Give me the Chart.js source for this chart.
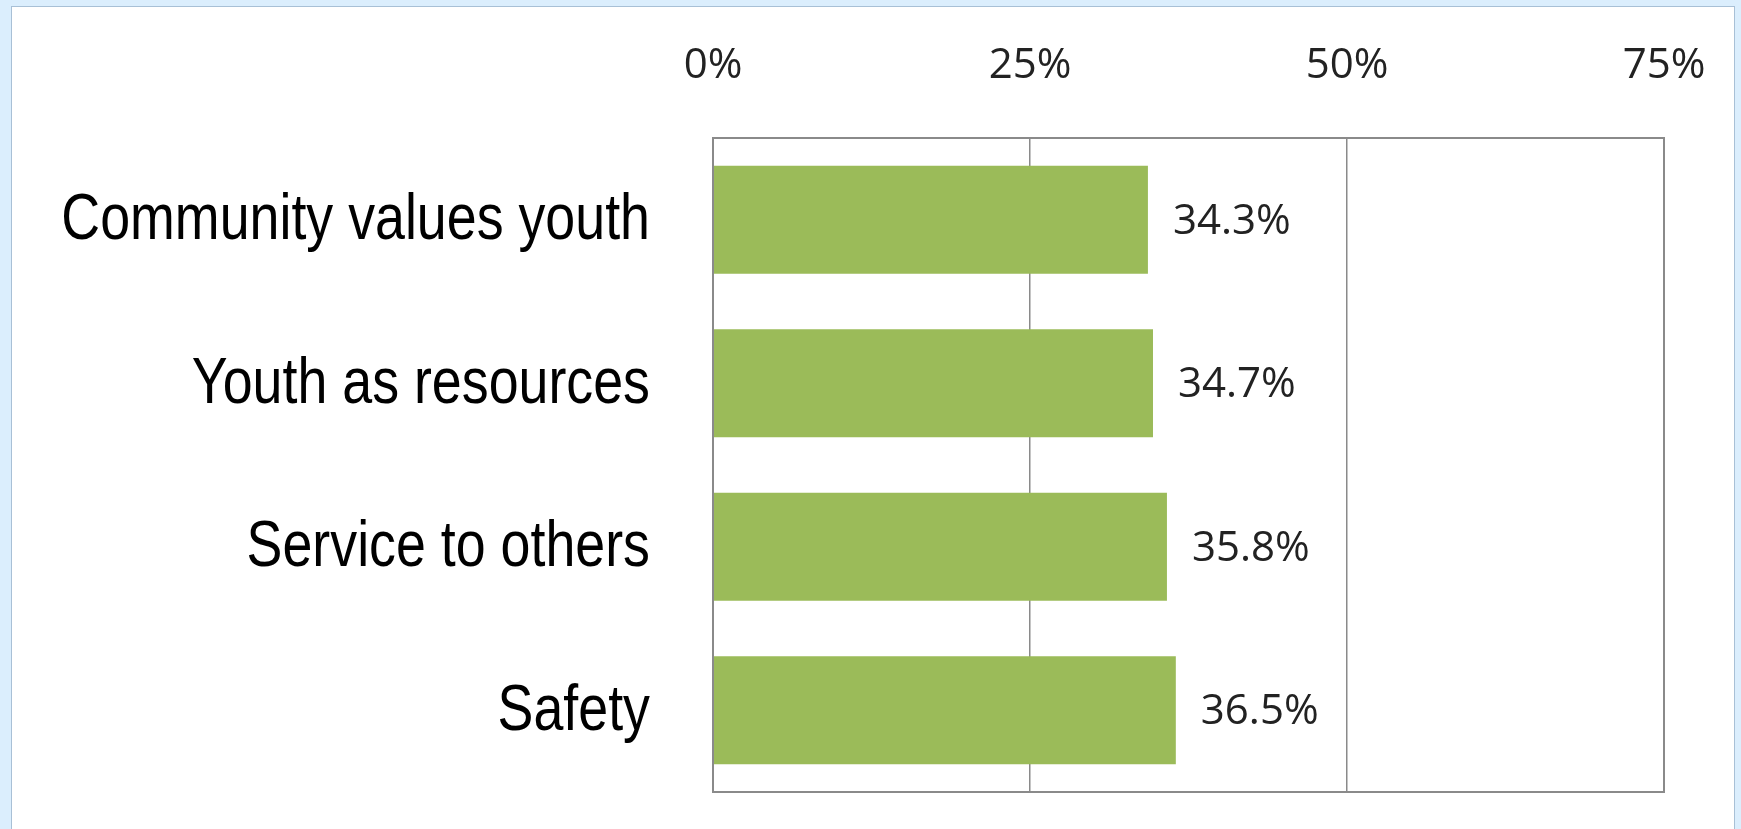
<!DOCTYPE html>
<html>
<head>
<meta charset="utf-8">
<title>Developmental assets</title>
<script src="https://cdn.jsdelivr.net/npm/chart.js@4/dist/chart.umd.min.js"></script>
<style>
    html, body {
        margin: 0;
        padding: 0;
        width: 1741px;
        height: 829px;
        overflow: hidden;
        background: #dbeefd;
    }
    #panel {
        position: absolute;
        left: 11px;
        top: 6px;
        width: 1722px;
        height: 830px;
        background: #ffffff;
        border-left: 1px solid #a8c0d6;
        border-top: 1px solid #a8c0d6;
        border-right: 1px solid #a8c0d6;
    }
    #assetChart {
        position: absolute;
        left: 0;
        top: 0;
    }
</style>
</head>
<body>

<div id="panel"></div>
<canvas id="assetChart" width="1741" height="829"></canvas>

<script>
// ------------------------------------------------------
// DATA
// ------------------------------------------------------

const categories = [
    "Community values youth",
    "Youth as resources",
    "Service to others",
    "Safety"
];

const percentValues = [34.3, 34.7, 35.8, 36.5];

const tickValues = [0, 25, 50, 75];

const barColor = "#9bbb59";
const frameColor = "#8a8a8a";

// ------------------------------------------------------
// PLUGINS
// ------------------------------------------------------

// grey box round the plot area
const frameBox = {
    id: "frameBox",
    afterDraw(chart) {
        const a = chart.chartArea;
        const ctx = chart.ctx;
        ctx.save();
        ctx.strokeStyle = frameColor;
        ctx.lineWidth = 2;
        ctx.strokeRect(a.left, a.top, a.right - a.left, a.bottom - a.top);
        ctx.restore();
    }
};

// value labels to the right of each bar
const valueLabels = {
    id: "valueLabels",
    afterDatasetsDraw(chart) {
        const ctx = chart.ctx;
        const meta = chart.getDatasetMeta(0);
        ctx.save();
        ctx.font = "42px 'Open Sans'";
        ctx.fillStyle = "#222222";
        ctx.textAlign = "left";
        ctx.textBaseline = "middle";
        meta.data.forEach((bar, i) => {
            const v = chart.data.datasets[0].data[i];
            ctx.fillText(v.toFixed(1) + "%", bar.x + 25, bar.y + 2);
        });
        ctx.restore();
    }
};

// category names, drawn condensed (no narrow font installed)
const categoryLabels = {
    id: "categoryLabels",
    afterDraw(chart) {
        const ctx = chart.ctx;
        const y = chart.scales.y;
        const squeeze = 0.84;
        const rightEdge = chart.chartArea.left - 63;
        ctx.save();
        ctx.font = "64px 'Liberation Sans'";
        ctx.fillStyle = "#000000";
        ctx.textAlign = "right";
        ctx.textBaseline = "middle";
        ctx.scale(squeeze, 1);
        categories.forEach((name, i) => {
            ctx.fillText(name, rightEdge / squeeze, y.getPixelForTick(i) + 2);
        });
        ctx.restore();
    }
};

// ------------------------------------------------------
// CHART
// ------------------------------------------------------

const ctx = document.getElementById("assetChart");

new Chart(ctx, {
    type: "bar",
    data: {
        labels: categories,
        datasets: [{
            data: percentValues,
            backgroundColor: barColor,
            borderWidth: 0,
            barPercentage: 0.66,
            categoryPercentage: 1
        }]
    },
    options: {
        indexAxis: "y",
        responsive: false,
        animation: false,
        layout: {
            padding: { left: 13, right: 77, top: 0, bottom: 37 }
        },
        plugins: {
            legend: { display: false },
            tooltip: { enabled: false }
        },
        scales: {
            x: {
                position: "top",
                min: 0,
                max: 75,
                afterBuildTicks(scale) {
                    scale.ticks = tickValues.map(v => ({ value: v }));
                },
                afterFit(scale) {
                    scale.height = 138;
                    scale.paddingLeft = 0;
                    scale.paddingRight = 0;
                },
                ticks: {
                    padding: 47,
                    color: "#222222",
                    font: { family: "'Open Sans'", size: 42 },
                    callback: v => v + "%"
                },
                grid: {
                    color: frameColor,
                    lineWidth: 1.5,
                    drawTicks: false
                },
                border: { display: false }
            },
            y: {
                afterFit(scale) {
                    scale.width = 700;
                },
                ticks: { display: false },
                grid: { display: false, drawTicks: false },
                border: { display: false }
            }
        }
    },
    plugins: [frameBox, valueLabels, categoryLabels]
});
</script>
</body>
</html>
